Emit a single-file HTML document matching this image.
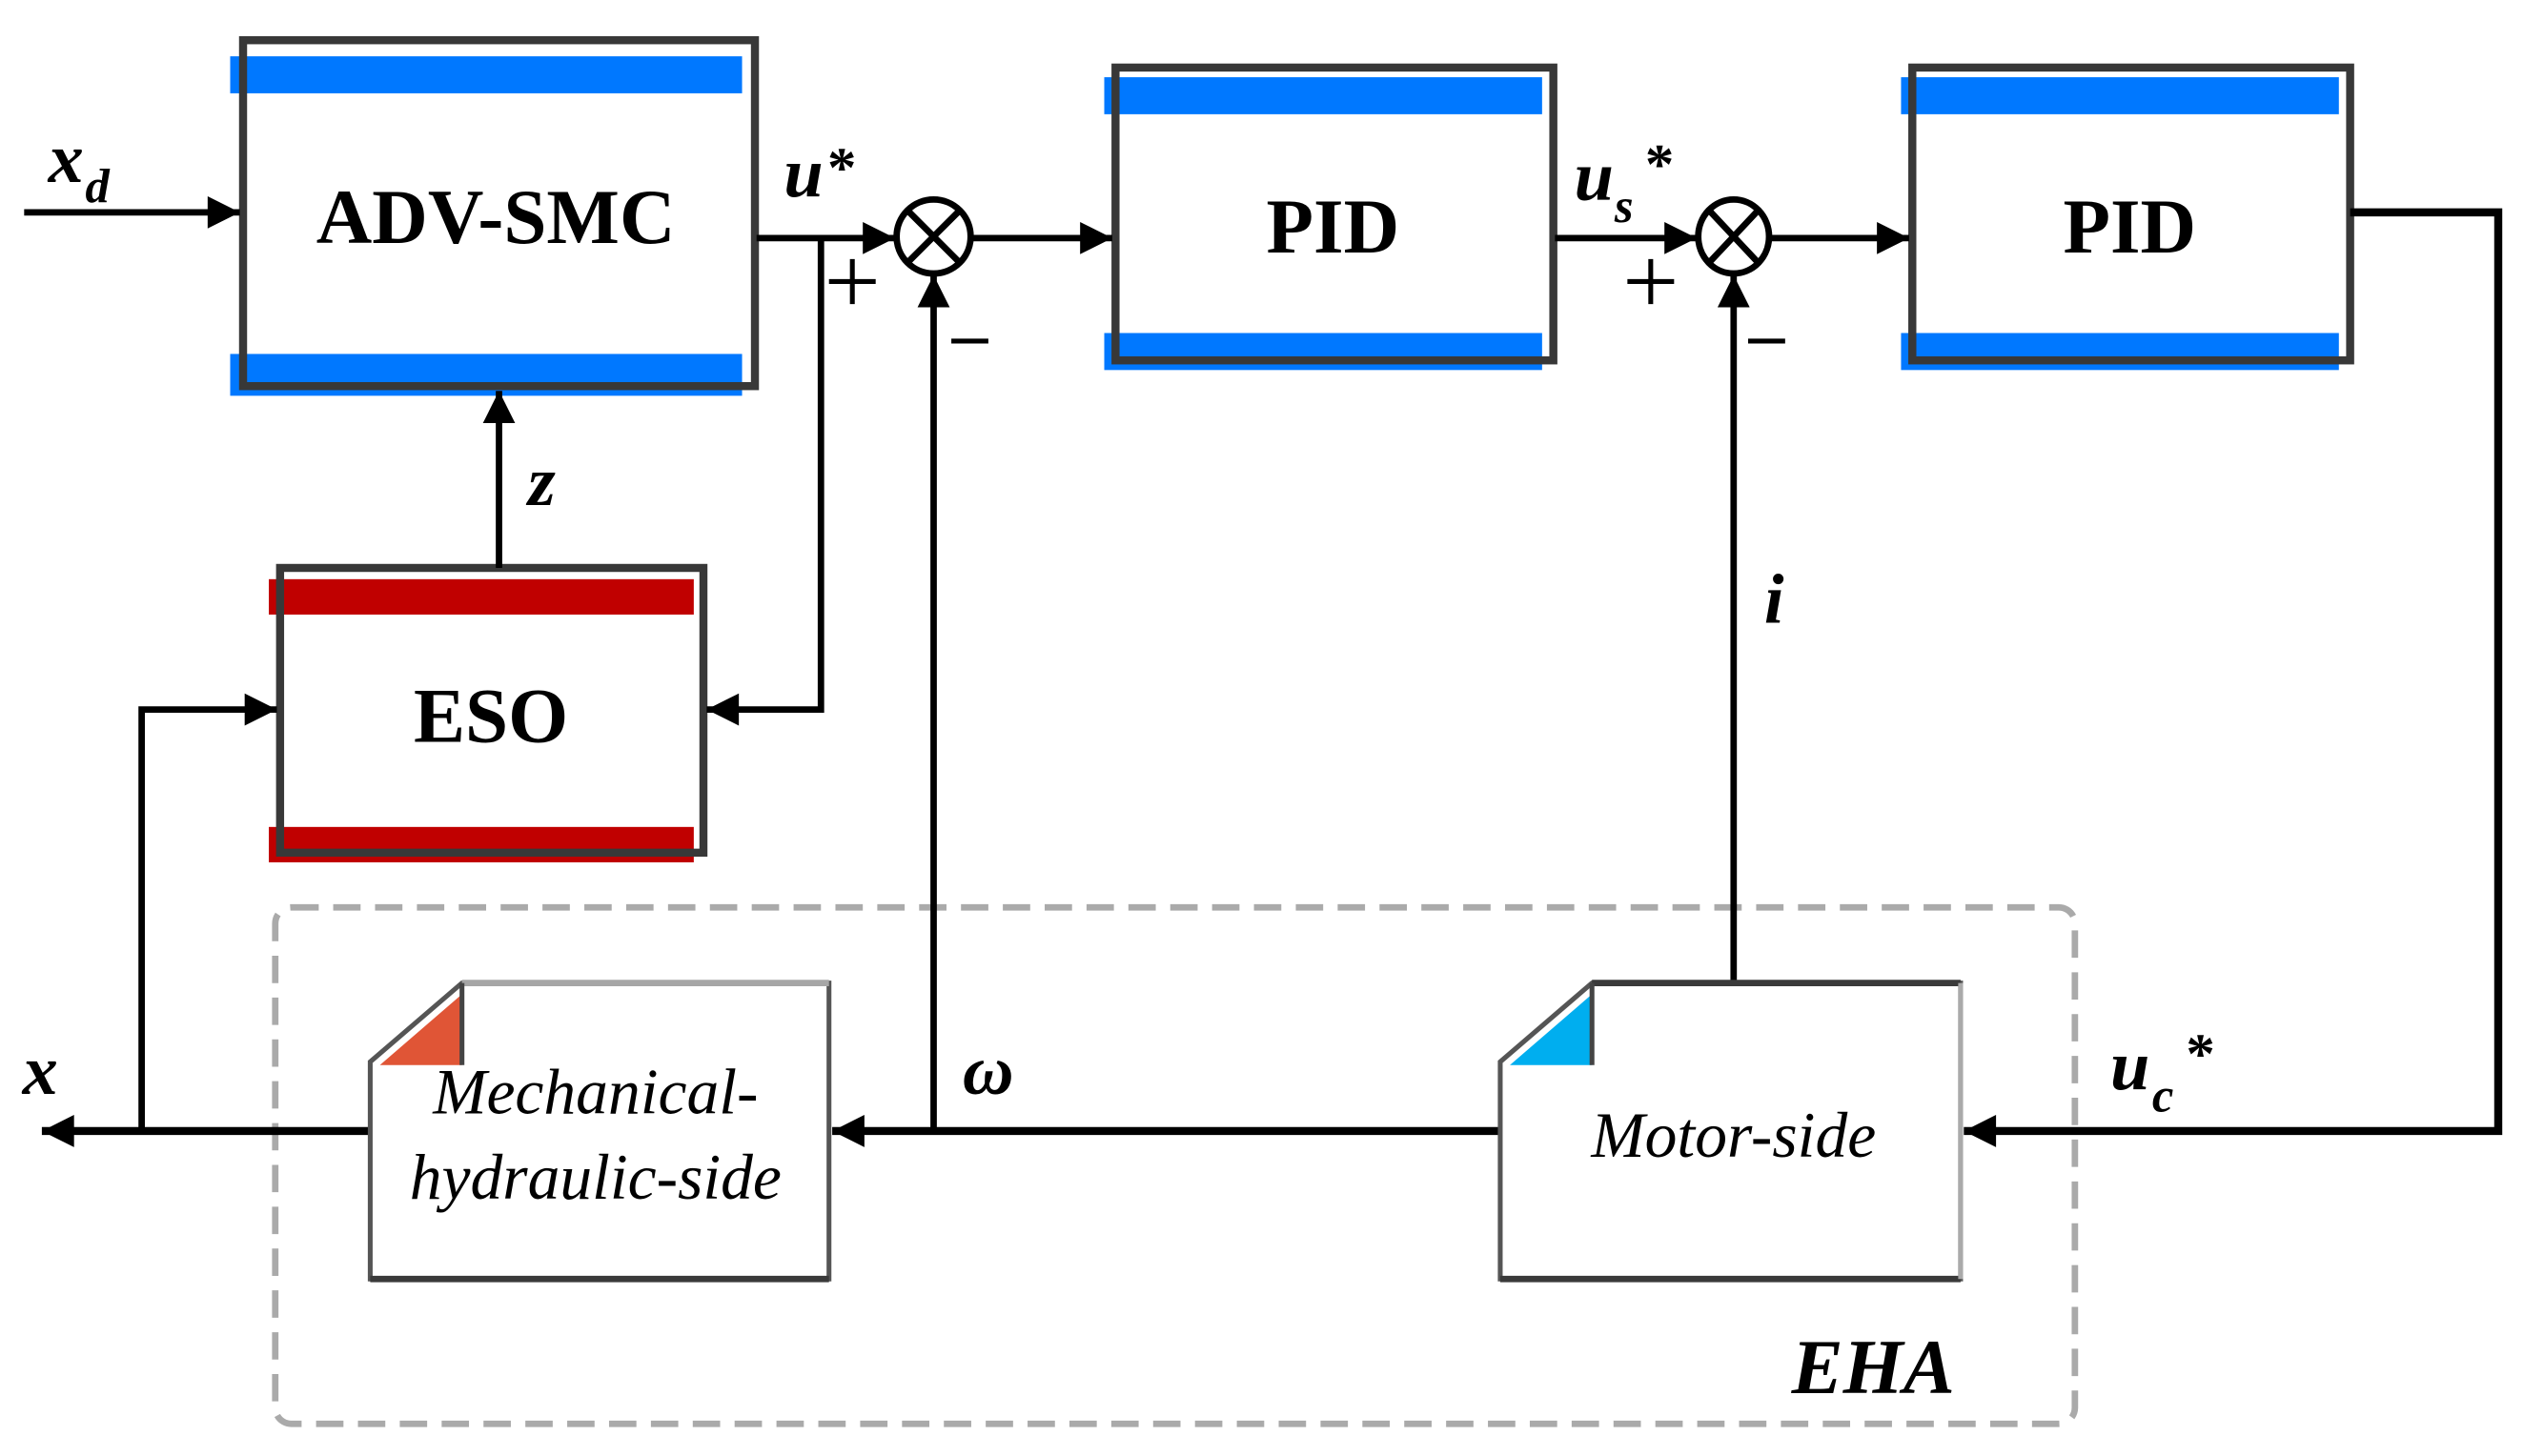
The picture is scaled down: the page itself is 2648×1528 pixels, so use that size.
<!DOCTYPE html>
<html><head><meta charset="utf-8"><style>
html,body{margin:0;padding:0;background:#fff;}
svg{display:block;}
</style></head><body>
<svg width="2648" height="1528" viewBox="0 0 1568 905" preserveAspectRatio="none" xmlns="http://www.w3.org/2000/svg" font-family="Liberation Serif, serif">
<defs>
<marker id="ah" viewBox="0 0 10 10" refX="10" refY="5" markerWidth="22" markerHeight="20" markerUnits="userSpaceOnUse" orient="auto"><path d="M0,0 L10,5 L0,10z" fill="#000"/></marker>
</defs>
<rect x="0" y="0" width="1568" height="905" fill="#fff"/>

<rect x="171" y="564" width="1118" height="321" rx="10" fill="none" stroke="#aaa" stroke-width="4" stroke-dasharray="17,9"/>

<rect x="143" y="35" width="318" height="23" fill="#0078ff"/>
<rect x="143" y="220" width="318" height="26" fill="#0078ff"/>
<rect x="151" y="25" width="318" height="215" fill="none" stroke="#383838" stroke-width="5"/>
<text x="308" y="151" font-size="48" font-weight="bold" text-anchor="middle" font-family="Liberation Serif, serif">ADV-SMC</text>

<rect x="686" y="48" width="272" height="23" fill="#0078ff"/>
<rect x="686" y="207" width="272" height="23" fill="#0078ff"/>
<rect x="693" y="42" width="272" height="182" fill="none" stroke="#383838" stroke-width="5"/>
<text x="828" y="157" font-size="48" font-weight="bold" text-anchor="middle" font-family="Liberation Serif, serif">PID</text>

<rect x="1181" y="48" width="272" height="23" fill="#0078ff"/>
<rect x="1181" y="207" width="272" height="23" fill="#0078ff"/>
<rect x="1188" y="42" width="272" height="182" fill="none" stroke="#383838" stroke-width="5"/>
<text x="1323" y="157" font-size="48" font-weight="bold" text-anchor="middle" font-family="Liberation Serif, serif">PID</text>

<rect x="167" y="360" width="264" height="22" fill="#c00000"/>
<rect x="167" y="514" width="264" height="22" fill="#c00000"/>
<rect x="174" y="353" width="263" height="177" fill="none" stroke="#383838" stroke-width="5"/>
<text x="305" y="461" font-size="48" font-weight="bold" text-anchor="middle" font-family="Liberation Serif, serif">ESO</text>

<g fill="none" stroke="#000" stroke-width="4">
<circle cx="580" cy="147" r="23"/>
<line x1="564" y1="131" x2="596" y2="163"/><line x1="596" y1="131" x2="564" y2="163"/>
<ellipse cx="1077" cy="147" rx="22" ry="23"/>
<line x1="1062" y1="131" x2="1092" y2="163"/><line x1="1092" y1="131" x2="1062" y2="163"/>
</g>

<g fill="none" stroke="#000" stroke-width="4">
<line x1="15" y1="132" x2="149" y2="132" marker-end="url(#ah)"/>
<line x1="470" y1="148" x2="556" y2="148" marker-end="url(#ah)"/>
<polyline points="510,148 510,441 439,441" marker-end="url(#ah)"/>
<line x1="310" y1="353" x2="310" y2="243" marker-end="url(#ah)"/>
<polyline points="88,703 88,441 172,441" marker-end="url(#ah)"/>
<line x1="604" y1="148" x2="691" y2="148" marker-end="url(#ah)"/>
<line x1="966" y1="148" x2="1054" y2="148" marker-end="url(#ah)"/>
<line x1="1100" y1="148" x2="1186" y2="148" marker-end="url(#ah)"/>
<line x1="580" y1="703" x2="580" y2="171" marker-end="url(#ah)"/>
<line x1="1077" y1="610" x2="1077" y2="171" marker-end="url(#ah)"/>
</g>
<g fill="none" stroke="#000" stroke-width="5">
<polyline points="1460,132 1552,132 1552,703 1220,703" marker-end="url(#ah)"/>
<line x1="932" y1="703" x2="517" y2="703" marker-end="url(#ah)"/>
<line x1="230" y1="703" x2="26" y2="703" marker-end="url(#ah)"/>
</g>

<g stroke="#000" stroke-width="3">
<line x1="515" y1="175" x2="544" y2="175"/><line x1="529.5" y1="161" x2="529.5" y2="189"/>
<line x1="591" y1="212" x2="614" y2="212"/>
<line x1="1011" y1="175" x2="1040" y2="175"/><line x1="1025.5" y1="161" x2="1025.5" y2="189"/>
<line x1="1086" y1="212" x2="1109" y2="212"/>
</g>

<path d="M230,660 L287,611 L515,611 L515,795 L230,795 Z" fill="#fff" stroke="#555" stroke-width="3"/>
<line x1="287" y1="611" x2="515" y2="611" stroke="#a6a6a6" stroke-width="4"/>
<line x1="230" y1="795" x2="515" y2="795" stroke="#3a3a3a" stroke-width="4"/>
<path d="M236,662 L287,618 L287,662 Z" fill="#e05536"/>
<line x1="287" y1="611" x2="287" y2="662" stroke="#444" stroke-width="3"/>
<text x="370" y="692" font-size="40" font-style="italic" text-anchor="middle" font-family="Liberation Serif, serif">Mechanical-</text>
<text x="370" y="745" font-size="40" font-style="italic" text-anchor="middle" font-family="Liberation Serif, serif">hydraulic-side</text>

<path d="M932,660 L989,611 L1218,611 L1218,795 L932,795 Z" fill="#fff" stroke="#555" stroke-width="3"/>
<line x1="989" y1="611" x2="1218" y2="611" stroke="#3a3a3a" stroke-width="4"/>
<line x1="932" y1="795" x2="1218" y2="795" stroke="#3a3a3a" stroke-width="4"/>
<line x1="1218" y1="611" x2="1218" y2="795" stroke="#aaa" stroke-width="3"/>
<path d="M938,662 L989,618 L989,662 Z" fill="#00aeef"/>
<line x1="989" y1="611" x2="989" y2="662" stroke="#444" stroke-width="3"/>
<text x="1077" y="719" font-size="40" font-style="italic" text-anchor="middle" font-family="Liberation Serif, serif">Motor-side</text>

<g font-family="Liberation Serif, serif" font-style="italic" font-weight="bold">
<text x="30" y="113" font-size="44">x</text>
<text x="53" y="126" font-size="30">d</text>
<text x="487" y="122" font-size="44">u</text>
<text x="514" y="116" font-size="36" font-style="normal">*</text>
<text x="978" y="124" font-size="44">u</text>
<text x="1003" y="138" font-size="30">s</text>
<text x="1022" y="114" font-size="36" font-style="normal">*</text>
<text x="1311" y="677" font-size="44">u</text>
<text x="1337" y="691" font-size="30">c</text>
<text x="1358" y="667" font-size="36" font-style="normal">*</text>
<text x="328" y="314" font-size="44">z</text>
<text x="1096" y="387" font-size="44">i</text>
<text x="598" y="680" font-size="44">ω</text>
<text x="14" y="680" font-size="44">x</text>
<text x="1113" y="866" font-size="48">EHA</text>
</g>
</svg>
</body></html>
